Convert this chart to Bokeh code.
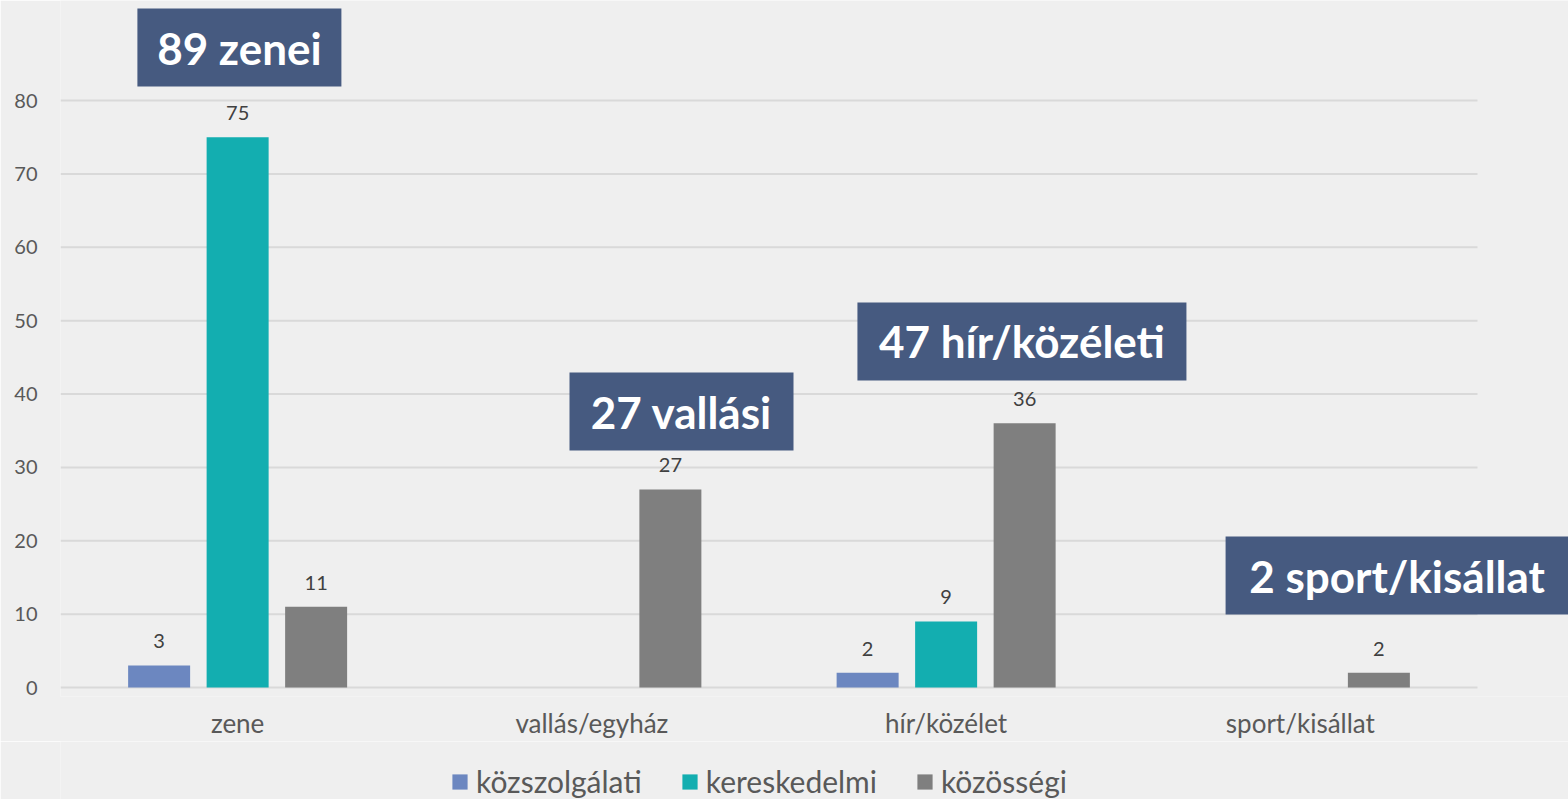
from bokeh.plotting import figure
from bokeh.layouts import column
from bokeh.models import Range1d, FixedTicker, ColumnDataSource, Legend, LegendItem
from bokeh.core.properties import value
from bokeh.embed import file_html
from bokeh.resources import INLINE

categories = ["zene", "vallás/egyház", "hír/közélet", "sport/kisállat"]
series_names = ["közszolgálati", "kereskedelmi", "közösségi"]
kozszolgalati = [3, 0, 2, 0]
kereskedelmi = [75, 0, 9, 0]
kozossegi = [11, 27, 36, 2]
y_ticks = [0, 10, 20, 30, 40, 50, 60, 70, 80]
box_texts = ["89 zenei", "27 vallási", "47 hír/közéleti", "2 sport/kisállat"]

colors = ["#6c87c0", "#13aeb0", "#7f7f7f"]
series = [kozszolgalati, kereskedelmi, kozossegi]
BG = "#efefef"

W = 1568
FRAME_H = 696
PX_PER_UNIT = 587.0 / 80.0
Y0_PX = 687.0
y_start = -(FRAME_H - Y0_PX) / PX_PER_UNIT
y_end = 80 + 100.0 / PX_PER_UNIT
cat_px = 354.25
x_end = (W - 60) / cat_px

FONT = "Lato"

p = figure(frame_width=W - 60, frame_height=FRAME_H, output_backend="svg", toolbar_location=None,
           x_range=Range1d(0, x_end), y_range=Range1d(y_start, y_end),
           min_border_left=60, min_border_right=0, min_border_top=0, min_border_bottom=0)
p.background_fill_color = BG
p.border_fill_color = BG
p.outline_line_color = None
p.xgrid.visible = False
p.ygrid.visible = False

# gridlines
p.segment(x0=[0] * len(y_ticks), x1=[len(categories)] * len(y_ticks), y0=y_ticks, y1=y_ticks,
          line_color="#d9d9d9", line_width=2)

offset = 78.5 / cat_px
bar_w = 62.0 / cat_px
for k, (vals, col) in enumerate(zip(series, colors)):
    xs = [i + 0.5 + (k - 1) * offset for i in range(len(categories))]
    src = ColumnDataSource(dict(x=xs, top=vals))
    p.vbar(x="x", top="top", width=bar_w, bottom=0, source=src, fill_color=col, line_color=None)
    lx = [x for x, v in zip(xs, vals) if v != 0]
    lv = [v for v in vals if v != 0]
    p.text(x=lx, y=lv, text=[str(v) for v in lv], text_align="center", text_baseline="middle",
           y_offset=-24, text_font=value(FONT), text_font_size="20px", text_color="#404040")

# annotation boxes
box_x = [0.505, 1.753, 2.714, 3.773]
box_y = [87.22, 37.61, 47.16, 15.26]
box_w = [204, 224, 329, 343]
p.rect(x=box_x, y=box_y, width=box_w, height=[78] * 4, width_units="screen", height_units="screen",
       fill_color="#465a80", line_color=None)
p.text(x=box_x, y=box_y, text=box_texts, text_align="center", text_baseline="middle",
       text_font=value(FONT), text_font_style="bold", text_font_size="44px", text_color="white")

# axes
p.yaxis.ticker = FixedTicker(ticks=y_ticks)
p.yaxis.axis_line_color = None
p.yaxis.major_tick_line_color = None
p.yaxis.minor_tick_line_color = None
p.yaxis.major_tick_out = 0
p.yaxis.minor_tick_out = 0
p.yaxis.major_label_standoff = 23
p.yaxis.major_label_text_font = FONT
p.yaxis.major_label_text_font_size = "20px"
p.yaxis.major_label_text_color = "#595959"

p.xaxis.ticker = FixedTicker(ticks=[i + 0.5 for i in range(len(categories))])
p.xaxis.major_label_overrides = {i + 0.5: c for i, c in enumerate(categories)}
p.xaxis.axis_line_color = None
p.xaxis.major_tick_line_color = None
p.xaxis.minor_tick_line_color = None
p.xaxis.major_label_standoff = 4
p.xaxis.major_label_text_font = FONT
p.xaxis.major_label_text_font_size = "26px"
p.xaxis.major_label_text_color = "#595959"

# legend strip (swatches use the series colours; zero-height bars so nothing is drawn in the strip)
leg = figure(frame_width=W - 60, frame_height=799 - FRAME_H - 45, output_backend="svg",
             toolbar_location=None, x_range=Range1d(0, 1), y_range=Range1d(0, 1),
             min_border_left=60, min_border_right=0, min_border_top=0, min_border_bottom=0)
leg.background_fill_color = BG
leg.border_fill_color = BG
leg.outline_line_color = None
leg.axis.visible = False
leg.grid.visible = False
swatches = [leg.vbar(x=[0.5], top=[0], bottom=[0], width=0.01, fill_color=c, line_color=None)
            for c in colors]
legend = Legend(items=[LegendItem(label=n, renderers=[r]) for n, r in zip(series_names, swatches)],
                orientation="horizontal", location=(390, 0), margin=0, padding=0,
                spacing=38, glyph_width=19, glyph_height=19, label_standoff=7,
                label_text_font=FONT, label_text_font_size="30px", label_text_color="#595959",
                border_line_color=None, background_fill_alpha=0)
leg.add_layout(legend, "center")

layout = column(p, leg, spacing=0)
open("out.html", "w").write(file_html(layout, INLINE))
